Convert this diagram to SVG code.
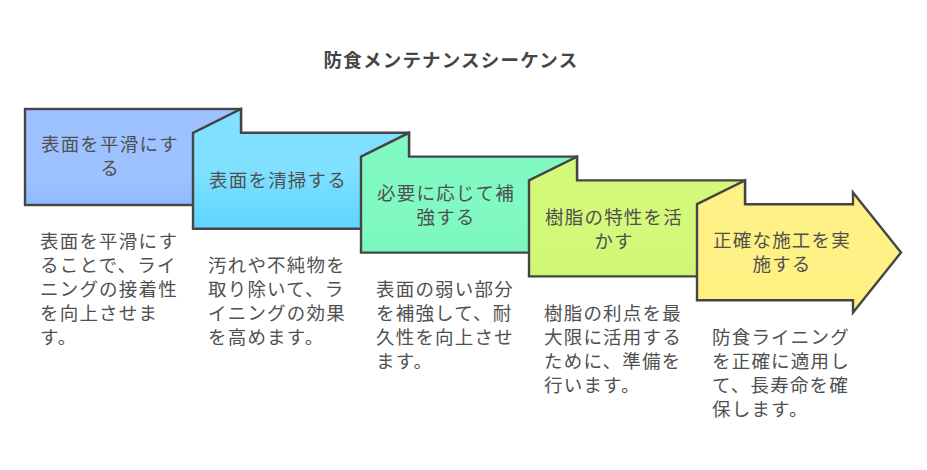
<svg xmlns="http://www.w3.org/2000/svg" width="927" height="470" viewBox="0 0 927 470">
<defs>
<linearGradient id="g1" x1="0" y1="0" x2="0" y2="1"><stop offset="0.7" stop-color="#9dc2ff"/><stop offset="1" stop-color="#90b9ff"/></linearGradient>
<linearGradient id="g2" x1="0" y1="0" x2="0" y2="1"><stop offset="0.5" stop-color="#80e0ff"/><stop offset="1" stop-color="#5ed4ff"/></linearGradient>
<linearGradient id="g3" x1="0" y1="0" x2="0" y2="1"><stop offset="0.7" stop-color="#80f9c2"/><stop offset="1" stop-color="#7af7bd"/></linearGradient>
<linearGradient id="g4" x1="0" y1="0" x2="0" y2="1"><stop offset="0.7" stop-color="#d3f87a"/><stop offset="1" stop-color="#cef673"/></linearGradient>
<linearGradient id="g5" x1="0" y1="0" x2="0" y2="1"><stop offset="0.7" stop-color="#fff185"/><stop offset="1" stop-color="#ffee7c"/></linearGradient>
</defs>
<style>
.sh{stroke:#454545;stroke-width:2.4;stroke-linejoin:miter}
.t{font-family:"Noto Sans CJK JP","Noto Sans",sans-serif;font-size:18.5px;fill:#505050;letter-spacing:1.2px}
.c{text-anchor:middle}
.title{font-family:"Noto Sans CJK JP","Noto Sans",sans-serif;font-size:18.5px;font-weight:bold;fill:#454545;letter-spacing:1.2px;text-anchor:middle}
</style>
<rect width="927" height="470" fill="#ffffff"/>
<text class="title" x="451" y="67">防食メンテナンスシーケンス</text>
<g id="step1">
<rect class="sh" x="25" y="109" width="216" height="96" fill="url(#g1)"/>
<text class="t c" x="110" y="151">表面を平滑にす</text>
<text class="t c" x="110" y="175">る</text>
</g>
<g id="step2">
<path class="sh" d="M193,132.8 L241,109 L241,132.8 L409,132.8 L409,228.8 L193,228.8 Z" fill="url(#g2)"/>
<text class="t c" x="278" y="187">表面を清掃する</text>
</g>
<g id="step3">
<path class="sh" d="M361,156.6 L409,132.8 L409,156.6 L577,156.6 L577,252.6 L361,252.6 Z" fill="url(#g3)"/>
<text class="t c" x="446" y="200">必要に応じて補</text>
<text class="t c" x="446" y="224">強する</text>
</g>
<g id="step4">
<path class="sh" d="M529,180.4 L577,156.6 L577,180.4 L745,180.4 L745,276.4 L529,276.4 Z" fill="url(#g4)"/>
<text class="t c" x="614" y="224">樹脂の特性を活</text>
<text class="t c" x="614" y="248">かす</text>
</g>
<g id="step5">
<path class="sh" d="M697,204.2 L745,180.4 L745,204.2 L853,204.2 L853,192.5 L901,252.5 L853,312.5 L853,300.2 L697,300.2 Z" fill="url(#g5)"/>
<text class="t c" x="782" y="247">正確な施工を実</text>
<text class="t c" x="782" y="271">施する</text>
</g>
<g id="connectors"></g>
<g id="desc1">
<text class="t" x="40" y="248">表面を平滑にす</text>
<text class="t" x="40" y="272">ることで、ライ</text>
<text class="t" x="40" y="296">ニングの接着性</text>
<text class="t" x="40" y="320">を向上させま</text>
<text class="t" x="40" y="344">す。</text>
</g>
<g id="desc2">
<text class="t" x="208" y="272">汚れや不純物を</text>
<text class="t" x="208" y="296">取り除いて、ラ</text>
<text class="t" x="208" y="320">イニングの効果</text>
<text class="t" x="208" y="344">を高めます。</text>
</g>
<g id="desc3">
<text class="t" x="376" y="296">表面の弱い部分</text>
<text class="t" x="376" y="320">を補強して、耐</text>
<text class="t" x="376" y="344">久性を向上させ</text>
<text class="t" x="376" y="368">ます。</text>
</g>
<g id="desc4">
<text class="t" x="544" y="320">樹脂の利点を最</text>
<text class="t" x="544" y="344">大限に活用する</text>
<text class="t" x="544" y="368">ために、準備を</text>
<text class="t" x="544" y="392">行います。</text>
</g>
<g id="desc5">
<text class="t" x="712" y="344">防食ライニング</text>
<text class="t" x="712" y="368">を正確に適用し</text>
<text class="t" x="712" y="392">て、長寿命を確</text>
<text class="t" x="712" y="416">保します。</text>
</g>
</svg>
